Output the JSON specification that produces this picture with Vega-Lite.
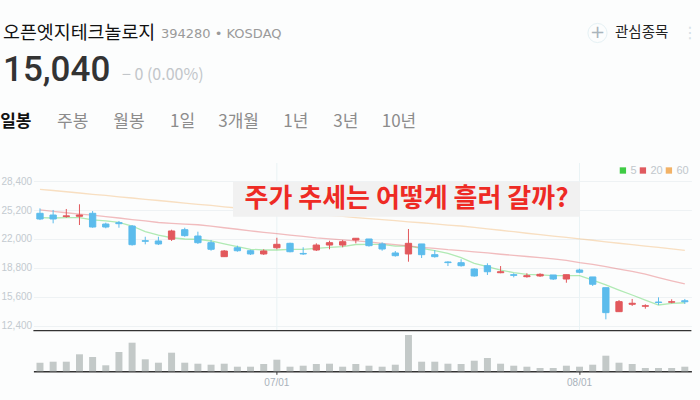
{
  "$schema": "https://vega.github.io/schema/vega-lite/v6.json",
  "width": 658,
  "height": 208.3,
  "autosize": "none",
  "padding": {"left": 33.4, "top": 163, "right": 8.6, "bottom": 28.7},
  "background": "#fcfdfd",
  "config": {
    "view": {"stroke": null},
    "font": "Noto Sans CJK KR",
    "axisX": {"domainColor": "#333333", "domainWidth": 1.4, "tickColor": "#333333", "tickSize": 3, "labelColor": "#a9b2bb", "labelFontSize": 10, "labelFont": "Liberation Sans", "labelAngle": 0, "labelPadding": 3, "grid": false, "title": null}
  },
  "datasets": {
    "daily": [
      {"date": "06/04", "o": 24850, "h": 25400, "l": 24100, "c": 24220, "v": 215000, "ma5": 24360, "ma20": 25220, "ma60": 27510},
      {"date": "06/05", "o": 24660, "h": 25220, "l": 23740, "c": 24220, "v": 240000, "ma5": 24330, "ma20": 25070, "ma60": 27380},
      {"date": "06/07", "o": 24490, "h": 25330, "l": 24360, "c": 24570, "v": 240000, "ma5": 24380, "ma20": 24910, "ma60": 27240},
      {"date": "06/10", "o": 24520, "h": 25850, "l": 23550, "c": 24660, "v": 425000, "ma5": 24380, "ma20": 24770, "ma60": 27100},
      {"date": "06/11", "o": 24850, "h": 25100, "l": 23250, "c": 23330, "v": 357500, "ma5": 24110, "ma20": 24640, "ma60": 26960},
      {"date": "06/12", "o": 23660, "h": 23810, "l": 23190, "c": 23330, "v": 150000, "ma5": 24000, "ma20": 24490, "ma60": 26830},
      {"date": "06/13", "o": 23810, "h": 24000, "l": 23250, "c": 23700, "v": 482500, "ma5": 23850, "ma20": 24330, "ma60": 26680},
      {"date": "06/14", "o": 23440, "h": 23550, "l": 21260, "c": 21370, "v": 715000, "ma5": 23440, "ma20": 24160, "ma60": 26550},
      {"date": "06/17", "o": 21810, "h": 22250, "l": 21410, "c": 21750, "v": 300000, "ma5": 22810, "ma20": 24000, "ma60": 26400},
      {"date": "06/18", "o": 21780, "h": 22250, "l": 21330, "c": 21450, "v": 215000, "ma5": 22440, "ma20": 23830, "ma60": 26270},
      {"date": "06/19", "o": 21970, "h": 23030, "l": 21780, "c": 22890, "v": 465000, "ma5": 22140, "ma20": 23730, "ma60": 26130},
      {"date": "06/20", "o": 23030, "h": 23250, "l": 22250, "c": 22370, "v": 215000, "ma5": 22000, "ma20": 23640, "ma60": 25990},
      {"date": "06/21", "o": 22330, "h": 22810, "l": 21450, "c": 21590, "v": 190000, "ma5": 21970, "ma20": 23580, "ma60": 25850},
      {"date": "06/24", "o": 21590, "h": 21890, "l": 20700, "c": 20860, "v": 165000, "ma5": 21780, "ma20": 23430, "ma60": 25720},
      {"date": "06/25", "o": 20040, "h": 20780, "l": 20000, "c": 20670, "v": 190000, "ma5": 21450, "ma20": 23250, "ma60": 25570},
      {"date": "06/26", "o": 21030, "h": 21260, "l": 20590, "c": 20700, "v": 115000, "ma5": 21150, "ma20": 23080, "ma60": 25440},
      {"date": "06/27", "o": 20700, "h": 20810, "l": 20230, "c": 20340, "v": 115000, "ma5": 20860, "ma20": 22900, "ma60": 25320},
      {"date": "06/28", "o": 20340, "h": 20860, "l": 20230, "c": 20670, "v": 182500, "ma5": 20780, "ma20": 22740, "ma60": 25190},
      {"date": "07/01", "o": 21030, "h": 22140, "l": 20860, "c": 21410, "v": 290000, "ma5": 20780, "ma20": 22590, "ma60": 25080},
      {"date": "07/02", "o": 21520, "h": 21590, "l": 20520, "c": 20590, "v": 115000, "ma5": 20860, "ma20": 22420, "ma60": 24960},
      {"date": "07/03", "o": 20400, "h": 21080, "l": 20230, "c": 20340, "v": 140000, "ma5": 20860, "ma20": 22280, "ma60": 24850},
      {"date": "07/04", "o": 20780, "h": 21520, "l": 20670, "c": 21330, "v": 182500, "ma5": 20970, "ma20": 22130, "ma60": 24730},
      {"date": "07/05", "o": 21330, "h": 21810, "l": 20860, "c": 21590, "v": 190000, "ma5": 21080, "ma20": 22020, "ma60": 24610},
      {"date": "07/08", "o": 21330, "h": 21890, "l": 21080, "c": 21700, "v": 115000, "ma5": 21150, "ma20": 21900, "ma60": 24500},
      {"date": "07/09", "o": 21890, "h": 22100, "l": 21520, "c": 22080, "v": 182500, "ma5": 21390, "ma20": 21800, "ma60": 24370},
      {"date": "07/10", "o": 22000, "h": 22000, "l": 21150, "c": 21260, "v": 140000, "ma5": 21410, "ma20": 21680, "ma60": 24260},
      {"date": "07/11", "o": 21450, "h": 21630, "l": 20700, "c": 20890, "v": 115000, "ma5": 21410, "ma20": 21520, "ma60": 24140},
      {"date": "07/12", "o": 20450, "h": 20670, "l": 20040, "c": 20150, "v": 165000, "ma5": 21220, "ma20": 21380, "ma60": 24030},
      {"date": "07/15", "o": 20340, "h": 23110, "l": 19480, "c": 21520, "v": 907500, "ma5": 21220, "ma20": 21240, "ma60": 23910},
      {"date": "07/16", "o": 21450, "h": 21450, "l": 19890, "c": 20260, "v": 240000, "ma5": 20970, "ma20": 21080, "ma60": 23800},
      {"date": "07/17", "o": 20260, "h": 20780, "l": 19930, "c": 20040, "v": 240000, "ma5": 20700, "ma20": 20960, "ma60": 23680},
      {"date": "07/18", "o": 19450, "h": 19530, "l": 19000, "c": 19380, "v": 190000, "ma5": 20410, "ma20": 20820, "ma60": 23550},
      {"date": "07/19", "o": 19370, "h": 19750, "l": 18930, "c": 19040, "v": 182500, "ma5": 19930, "ma20": 20720, "ma60": 23440},
      {"date": "07/22", "o": 18670, "h": 18750, "l": 17820, "c": 17900, "v": 265000, "ma5": 19300, "ma20": 20580, "ma60": 23280},
      {"date": "07/23", "o": 19040, "h": 19300, "l": 18010, "c": 18370, "v": 332500, "ma5": 18930, "ma20": 20450, "ma60": 23120},
      {"date": "07/24", "o": 18260, "h": 19000, "l": 18200, "c": 18370, "v": 190000, "ma5": 18560, "ma20": 20310, "ma60": 22970},
      {"date": "07/25", "o": 18040, "h": 18200, "l": 17750, "c": 17970, "v": 140000, "ma5": 18260, "ma20": 20190, "ma60": 22810},
      {"date": "07/26", "o": 17820, "h": 18200, "l": 17710, "c": 17930, "v": 115000, "ma5": 18080, "ma20": 20060, "ma60": 22640},
      {"date": "07/29", "o": 17900, "h": 18200, "l": 17790, "c": 18080, "v": 82500, "ma5": 18010, "ma20": 19940, "ma60": 22490},
      {"date": "07/30", "o": 18010, "h": 18010, "l": 17450, "c": 17560, "v": 82500, "ma5": 17930, "ma20": 19800, "ma60": 22330},
      {"date": "07/31", "o": 17560, "h": 18040, "l": 17150, "c": 18040, "v": 140000, "ma5": 17930, "ma20": 19630, "ma60": 22170},
      {"date": "08/01", "o": 18560, "h": 18710, "l": 18200, "c": 18310, "v": 115000, "ma5": 17930, "ma20": 19380, "ma60": 22010},
      {"date": "08/02", "o": 17790, "h": 17790, "l": 16790, "c": 16980, "v": 165000, "ma5": 17450, "ma20": 19180, "ma60": 21860},
      {"date": "08/05", "o": 16600, "h": 16600, "l": 13090, "c": 13830, "v": 390000, "ma5": 16900, "ma20": 18940, "ma60": 21690},
      {"date": "08/06", "o": 13940, "h": 15230, "l": 13940, "c": 15050, "v": 215000, "ma5": 16340, "ma20": 18660, "ma60": 21530},
      {"date": "08/07", "o": 14760, "h": 15350, "l": 14570, "c": 14870, "v": 182500, "ma5": 15790, "ma20": 18400, "ma60": 21380},
      {"date": "08/08", "o": 14540, "h": 14760, "l": 14270, "c": 14600, "v": 82500, "ma5": 15230, "ma20": 18100, "ma60": 21210},
      {"date": "08/09", "o": 15010, "h": 15530, "l": 14680, "c": 14950, "v": 82500, "ma5": 14680, "ma20": 17720, "ma60": 21060},
      {"date": "08/12", "o": 14990, "h": 15310, "l": 14870, "c": 15040, "v": 82500, "ma5": 14870, "ma20": 17360, "ma60": 20900},
      {"date": "08/13", "o": 15150, "h": 15350, "l": 14790, "c": 15040, "v": 115000, "ma5": 14930, "ma20": 17010, "ma60": 20740}
    ]
  },
  "resolve": {"scale": {"y": "independent"}},
  "layer": [
    {
      "data": {"name": "daily"},
      "encoding": {
        "x": {
          "field": "date", "type": "ordinal", "title": null,
          "scale": {"type": "band", "paddingInner": 0, "paddingOuter": 0,
            "domain": ["06/04","06/05","06/07","06/10","06/11","06/12","06/13","06/14","06/17","06/18","06/19","06/20","06/21","06/24","06/25","06/26","06/27","06/28","07/01","07/02","07/03","07/04","07/05","07/08","07/09","07/10","07/11","07/12","07/15","07/16","07/17","07/18","07/19","07/22","07/23","07/24","07/25","07/26","07/29","07/30","07/31","08/01","08/02","08/05","08/06","08/07","08/08","08/09","08/12","08/13"]},
          "axis": {"values": ["07/01", "08/01"]}
        }
      },
      "layer": [
        {
          "transform": [{"filter": "datum.date == '07/01' || datum.date == '08/01'"}],
          "mark": {"type": "rule", "stroke": "#e9f3f5", "strokeWidth": 1},
          "encoding": {
            "y": {"datum": 30430, "type": "quantitative", "title": null},
            "y2": {"datum": 11828}
          }
        },
        {
          "transform": [{"fold": ["ma5", "ma20", "ma60"], "as": ["ma", "ma_val"]}],
          "mark": {"type": "line", "strokeWidth": 1.3, "strokeOpacity": 0.4},
          "encoding": {
            "y": {"field": "ma_val", "type": "quantitative", "title": null},
            "color": {
              "field": "ma", "type": "nominal",
              "scale": {"domain": ["ma5", "ma20", "ma60"], "range": ["#3fcc45", "#e05a5f", "#f2b266"]},
              "legend": {
                "orient": "top-right", "direction": "horizontal", "title": null, "offset": 2, "padding": 0,
                "gridAlign": "none",
                "symbolType": "square", "symbolSize": 40, "symbolStrokeWidth": 0, "symbolOpacity": 1,
                "labelExpr": "replace(datum.label, 'ma', '')",
                "labelColor": "#c1c7cc", "labelFontSize": 11, "labelFont": "Liberation Sans",
                "columnPadding": 0, "labelOffset": 2,
                "encode": {"symbols": {"update": {"fill": {"scale": "color", "field": "value"}, "opacity": {"value": 1}}}}
              }
            }
          }
        },
        {
          "mark": {"type": "rule", "strokeWidth": 1},
          "encoding": {
            "y": {"field": "l", "type": "quantitative", "title": null},
            "y2": {"field": "h"},
            "stroke": {"condition": {"test": "datum.c >= datum.o", "value": "#e2585c"}, "value": "#5cbcec"}
          }
        },
        {
          "mark": {"type": "bar", "width": {"band": 0.48}, "strokeWidth": 1},
          "encoding": {
            "y": {
              "field": "o", "type": "quantitative", "title": null,
              "scale": {"domain": [7325, 30430], "nice": false, "zero": false},
              "axis": {
                "values": [12400, 15600, 18800, 22000, 25200, 28400], "format": ",d",
                "grid": true, "gridColor": "#eef2f4", "ticks": false, "domain": false,
                "labelAlign": "left", "labelPadding": 32.4, "labelColor": "#c3cad0",
                "labelFontSize": 10, "labelFont": "Liberation Sans"
              }
            },
            "y2": {"field": "c"},
            "fill": {"condition": {"test": "datum.c >= datum.o", "value": "#e2585c"}, "value": "#5cbcec"},
            "stroke": {"condition": {"test": "datum.c >= datum.o", "value": "#e2585c"}, "value": "#5cbcec"}
          }
        },
        {
          "data": {"values": [{"note": "주가 추세는 어떻게 흘러 갈까?"}]},
          "mark": {"type": "rect", "fill": "#f1f1f1"},
          "encoding": {
            "x": {"datum": "06/26", "type": "ordinal", "bandPosition": 0.17},
            "x2": {"datum": "08/01", "bandPosition": 0.53},
            "y": {"datum": 28356, "type": "quantitative", "title": null},
            "y2": {"datum": 24473}
          }
        },
        {
          "data": {"values": [{"note": "주가 추세는 어떻게 흘러 갈까?"}]},
          "mark": {"type": "text", "font": "Noto Sans CJK KR", "fontWeight": "bold", "fontSize": 26, "color": "#ee2a24", "align": "center", "baseline": "middle"},
          "encoding": {
            "x": {"datum": "07/15", "type": "ordinal", "bandPosition": 0.35},
            "y": {"datum": 26437, "type": "quantitative", "title": null},
            "text": {"field": "note"}
          }
        }
      ]
    },
    {
      "layer": [
        {
          "data": {"name": "daily"},
          "mark": {"type": "bar", "width": {"band": 0.53}, "fill": "#c3c9c8"},
          "encoding": {
            "x": {
              "field": "date", "type": "ordinal", "title": null,
              "scale": {"type": "band", "paddingInner": 0, "paddingOuter": 0,
                "domain": ["06/04","06/05","06/07","06/10","06/11","06/12","06/13","06/14","06/17","06/18","06/19","06/20","06/21","06/24","06/25","06/26","06/27","06/28","07/01","07/02","07/03","07/04","07/05","07/08","07/09","07/10","07/11","07/12","07/15","07/16","07/17","07/18","07/19","07/22","07/23","07/24","07/25","07/26","07/29","07/30","07/31","08/01","08/02","08/05","08/06","08/07","08/08","08/09","08/12","08/13"]},
              "axis": {"values": ["07/01", "08/01"]}
            },
            "y": {"field": "v", "type": "quantitative", "scale": {"domain": [0, 5207500], "nice": false}, "axis": null}
          }
        },
        {
          "data": {"values": [{}]},
          "mark": {"type": "rule", "stroke": "#333333", "strokeWidth": 1.2},
          "encoding": {"y": {"datum": 1015000, "type": "quantitative"}}
        },
        {
          "data": {"values": [{}]},
          "mark": {"type": "text", "text": "오픈엣지테크놀로지", "x": -30.4, "y": -129.7, "align": "left", "baseline": "middle", "fontSize": 18.4, "color": "#111111"}
        },
        {
          "data": {"values": [{}]},
          "mark": {"type": "text", "text": "394280 • KOSDAQ", "x": 127.6, "y": -129.5, "align": "left", "baseline": "middle", "fontSize": 13, "font": "DejaVu Sans", "color": "#9a9a9a"}
        },
        {
          "data": {"values": [{}]},
          "mark": {"type": "text", "text": "15,040", "x": -30.4, "y": -82, "align": "left", "baseline": "alphabetic", "fontSize": 35, "font": "Roboto", "fontWeight": 500, "color": "#333333"}
        },
        {
          "data": {"values": [{}]},
          "mark": {"type": "text", "text": "− 0 (0.00%)", "x": 88.6, "y": -83, "align": "left", "baseline": "alphabetic", "fontSize": 16, "color": "#c2c6ca"}
        },
        {
          "data": {"values": [{}]},
          "mark": {"type": "point", "shape": "circle", "size": 366, "x": 564.1, "y": -130, "filled": false, "stroke": "#dcedf2", "strokeWidth": 1},
          "encoding": {}
        },
        {
          "data": {"values": [{}]},
          "mark": {"type": "text", "text": "+", "x": 564.1, "y": -130, "align": "center", "baseline": "middle", "fontSize": 18, "font": "DejaVu Sans", "color": "#a9b4bb"}
        },
        {
          "data": {"values": [{}]},
          "mark": {"type": "text", "text": "관심종목", "x": 581.6, "y": -130.5, "align": "left", "baseline": "middle", "fontSize": 14.5, "color": "#222222"}
        },
        {
          "data": {"values": [{}]},
          "mark": {"type": "text", "text": "⋮", "x": 656.6, "y": -130.3, "align": "center", "baseline": "middle", "fontSize": 16, "font": "DejaVu Sans", "color": "#d5e0e6"}
        },
        {
          "data": {"values": [{}]},
          "mark": {"type": "text", "text": "일봉", "x": -33.2, "y": -41.3, "align": "left", "baseline": "middle", "fontSize": 17, "fontWeight": "bold", "color": "#111111"}
        },
        {
          "data": {"values": [{}]},
          "mark": {"type": "text", "text": "주봉", "x": 23.6, "y": -41.3, "align": "left", "baseline": "middle", "fontSize": 17, "color": "#8c8c8c"}
        },
        {
          "data": {"values": [{}]},
          "mark": {"type": "text", "text": "월봉", "x": 79.9, "y": -41.3, "align": "left", "baseline": "middle", "fontSize": 17, "color": "#8c8c8c"}
        },
        {
          "data": {"values": [{}]},
          "mark": {"type": "text", "text": "1일", "x": 136.6, "y": -41.3, "align": "left", "baseline": "middle", "fontSize": 17, "color": "#8c8c8c"}
        },
        {
          "data": {"values": [{}]},
          "mark": {"type": "text", "text": "3개월", "x": 184.9, "y": -41.3, "align": "left", "baseline": "middle", "fontSize": 17, "color": "#8c8c8c"}
        },
        {
          "data": {"values": [{}]},
          "mark": {"type": "text", "text": "1년", "x": 249.9, "y": -41.3, "align": "left", "baseline": "middle", "fontSize": 17, "color": "#8c8c8c"}
        },
        {
          "data": {"values": [{}]},
          "mark": {"type": "text", "text": "3년", "x": 299.9, "y": -41.3, "align": "left", "baseline": "middle", "fontSize": 17, "color": "#8c8c8c"}
        },
        {
          "data": {"values": [{}]},
          "mark": {"type": "text", "text": "10년", "x": 348.3, "y": -41.3, "align": "left", "baseline": "middle", "fontSize": 17, "color": "#8c8c8c"}
        },
        {
          "data": {"values": [{}]},
          "mark": {"type": "rule", "x": -33.4, "x2": 0.6, "y": -12, "y2": -12, "stroke": "#222222", "strokeWidth": 1.4},
          "encoding": {}
        }
      ]
    }
  ]
}
